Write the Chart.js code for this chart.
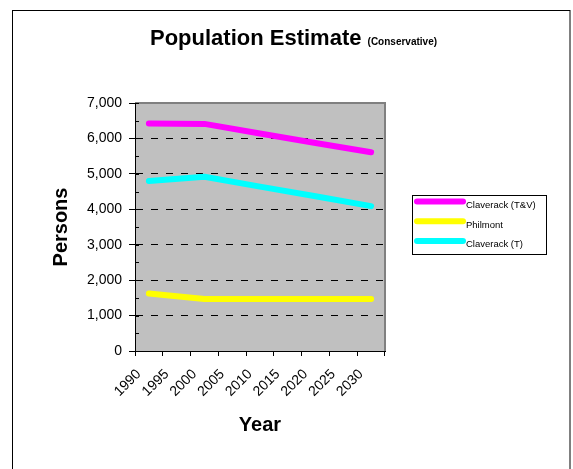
<!DOCTYPE html>
<html>
<head>
<meta charset="utf-8">
<script src="https://cdn.jsdelivr.net/npm/chart.js@4/dist/chart.umd.min.js"></script>
<style>
    html, body { margin: 0; padding: 0; background: #fff; }
    #wrap { width: 573px; height: 469px; }
</style>
</head>
<body>
<div id="wrap"><canvas id="popChart" width="573" height="469"></canvas></div>
<script>
// chart data
const years = ["1990", "1995", "2000", "2005", "2010", "2015", "2020", "2025", "2030"];
const claverackTV = [6420, null, 6410, null, 6140, null, 5870, null, 5610];
const philmont = [1620, null, 1470, null, 1470, null, 1470, null, 1470];
const claverackT = [4800, null, 4920, null, 4640, null, 4370, null, 4090];
const seriesNames = ["Claverack (T&V)", "Philmont", "Claverack (T)"];
const seriesColors = ["#ff00ff", "#ffff00", "#00ffff"];
const yTicks = [0, 1000, 2000, 3000, 4000, 5000, 6000, 7000];

const titleMain = "Population Estimate";
const titleSub = "(Conservative)";

// frame, plot background, minor ticks, title and legend
const decorPlugin = {
    id: "decor",
    beforeDraw(chart) {
        const ctx = chart.ctx;
        const a = chart.chartArea;
        ctx.save();
        ctx.fillStyle = "#fff";
        ctx.fillRect(0, 0, chart.width, chart.height);
        ctx.strokeStyle = "#000";
        ctx.lineWidth = 1;
        ctx.strokeRect(12.5, 10.5, 557.5, 500);
        ctx.fillStyle = "#c0c0c0";
        ctx.fillRect(a.left, a.top, a.right - a.left, a.bottom - a.top);
        ctx.restore();
    },
    beforeDatasetsDraw(chart) {
        const ctx = chart.ctx;
        const a = chart.chartArea;
        const y = chart.scales.y;
        ctx.save();
        ctx.strokeStyle = "#808080";
        ctx.lineWidth = 2;
        ctx.beginPath();
        ctx.moveTo(a.left, a.top);
        ctx.lineTo(a.right, a.top);
        ctx.lineTo(a.right, a.bottom);
        ctx.stroke();
        // ticks inside the value axis
        ctx.strokeStyle = "#000";
        ctx.lineWidth = 1;
        ctx.beginPath();
        for (let v = 0; v <= 7000; v += 500) {
            const py = Math.round(y.getPixelForValue(v)) + 0.5;
            ctx.moveTo(a.left, py);
            ctx.lineTo(a.left + 4, py);
        }
        ctx.stroke();
        ctx.restore();
    },
    afterDraw(chart) {
        const ctx = chart.ctx;
        ctx.save();
        // title
        ctx.fillStyle = "#000";
        ctx.textBaseline = "alphabetic";
        ctx.font = "bold 22px Arial, 'Liberation Sans'";
        const w1 = ctx.measureText(titleMain + " ").width;
        ctx.font = "bold 10px Arial, 'Liberation Sans'";
        const w2 = ctx.measureText(titleSub).width;
        const x0 = 293.5 - (w1 + w2) / 2;
        ctx.font = "bold 22px Arial, 'Liberation Sans'";
        ctx.fillText(titleMain, x0, 45);
        ctx.font = "bold 10px Arial, 'Liberation Sans'";
        ctx.fillText(titleSub, x0 + w1, 45);

        // legend
        ctx.strokeStyle = "#000";
        ctx.lineWidth = 1;
        ctx.strokeRect(412.5, 195.5, 134, 59);
        ctx.font = "9.5px Arial, 'Liberation Sans'";
        chart.data.datasets.forEach(function (ds, i) {
            const ly = 201.5 + i * 19.7;
            ctx.strokeStyle = ds.borderColor;
            ctx.lineWidth = 6;
            ctx.lineCap = "round";
            ctx.beginPath();
            ctx.moveTo(417, ly);
            ctx.lineTo(463, ly);
            ctx.stroke();
            ctx.fillStyle = "#000";
            ctx.fillText(ds.label, 466, ly + 6.3);
        });
        ctx.restore();
    }
};

const ctxPop = document.getElementById("popChart").getContext("2d");
new Chart(ctxPop, {
    type: "line",
    data: {
        labels: years,
        datasets: [claverackTV, philmont, claverackT].map(function (vals, i) {
            return {
                label: seriesNames[i],
                data: vals,
                borderColor: seriesColors[i],
                backgroundColor: seriesColors[i],
                borderWidth: 6,
                borderCapStyle: "round",
                borderJoinStyle: "round",
                pointRadius: 0,
                tension: 0,
                spanGaps: true,
                fill: false
            };
        })
    },
    options: {
        responsive: false,
        animation: false,
        events: [],
        layout: { padding: { left: 0, top: 103, right: 188, bottom: 0 } },
        plugins: {
            legend: { display: false },
            title: { display: false },
            tooltip: { enabled: false }
        },
        scales: {
            x: {
                type: "category",
                offset: true,
                afterFit: function (scale) { scale.height = 118; },
                grid: {
                    offset: true,
                    drawOnChartArea: false,
                    tickLength: 5,
                    tickColor: "#000"
                },
                border: { color: "#000", width: 1 },
                ticks: {
                    color: "#000",
                    font: { family: "Arial, 'Liberation Sans'", size: 14 },
                    minRotation: 45,
                    maxRotation: 45,
                    autoSkip: false,
                    labelOffset: -10,
                    padding: 10
                },
                title: {
                    display: true,
                    text: "Year",
                    color: "#000",
                    font: { family: "Arial, 'Liberation Sans'", size: 20, weight: "bold" },
                    padding: { top: 0, bottom: 32 }
                }
            },
            y: {
                min: 0,
                max: 7000,
                afterFit: function (scale) { scale.width = 135; },
                afterBuildTicks: function (scale) {
                    scale.ticks = yTicks.map(function (v) { return { value: v }; });
                },
                grid: {
                    color: function (c) {
                        const v = c.tick ? c.tick.value : 0;
                        return (v === 0 || v === 7000) ? "rgba(0,0,0,0)" : "#000";
                    },
                    tickColor: "#000",
                    tickLength: 6,
                    tickBorderDash: []
                },
                border: { color: "#000", width: 1, dash: [7, 8] },
                ticks: {
                    color: "#000",
                    padding: 7,
                    font: { family: "Arial, 'Liberation Sans'", size: 14 },
                    callback: function (v) { return Number(v).toLocaleString("en-US"); }
                },
                title: {
                    display: true,
                    text: "Persons",
                    color: "#000",
                    font: { family: "Arial, 'Liberation Sans'", size: 20, weight: "bold" },
                    padding: { top: 49, bottom: 0 }
                }
            }
        }
    },
    plugins: [decorPlugin]
});
</script>
</body>
</html>
